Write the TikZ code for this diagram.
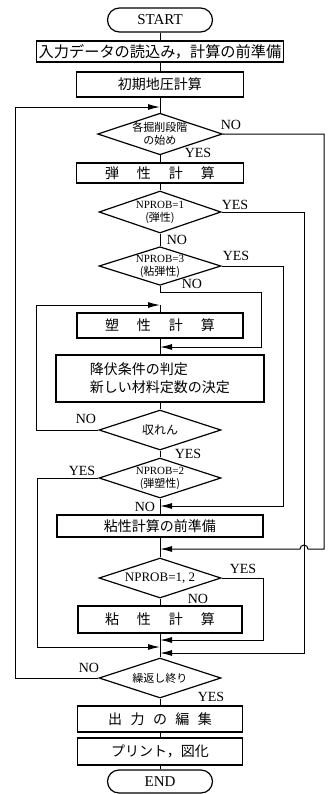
\documentclass[tikz,border=0pt]{standalone}
\usepackage{fontspec}
\setmainfont{Liberation Serif}
\newfontfamily\jp{Noto Sans CJK JP}
\usetikzlibrary{shapes.geometric,arrows.meta}
\newcommand{\gap}{\hspace{9pt}}
\begin{document}
\begin{tikzpicture}[x=0.5pt,y=-0.5pt,
  box/.style={draw,line width=0.6pt,inner sep=1pt,font=\jp\fontsize{7}{9}\selectfont},
  decide/.style={draw,diamond,aspect=3,inner sep=0pt,line width=0.6pt,minimum width=61pt,minimum height=20pt,align=center,font=\fontsize{5.5}{6.5}\selectfont},
  term/.style={draw,rounded corners=6pt,line width=0.6pt,minimum width=52.5pt,minimum height=12pt,inner sep=1pt,font=\fontsize{7.5}{9}\selectfont},
  lbl/.style={inner sep=0pt,font=\fontsize{7}{8}\selectfont},
  flow/.style={line width=0.5pt},
  into/.style={line width=0.5pt,-{Latex[length=6pt,width=3pt]}}]
\useasboundingbox (0,0) rectangle (336,794);
\node[term] (start) at (160,20) {START};
\node[box,minimum width=123pt,minimum height=10.5pt,font=\jp\fontsize{7.6}{9}\selectfont] (input) at (160,51.5) {入力データの読込み，計算の前準備};
\node[box,minimum width=83.5pt,minimum height=12.5pt] (init) at (160,84.5) {初期地圧計算};
\node[decide,font=\jp\fontsize{5.5}{6.5}\selectfont] (d1) at (160,134) {各掘削段階\\の始め};
\node[box,minimum width=83.5pt,minimum height=10pt] (elastic) at (160,173) {弾\gap 性\gap 計\gap 算};
\node[decide,minimum height=21pt] (d2) at (160,212) {NPROB=1\\\jp(弾性)};
\node[decide,minimum height=19pt] (d3) at (160,266) {NPROB=3\\\jp(粘弾性)};
\node[box,minimum width=83pt,minimum height=12.5pt] (plastic) at (160,325.5) {塑\gap 性\gap 計\gap 算};
\node[box,minimum width=104pt,minimum height=23.5pt,align=left] (yield) at (160,378.5) {降伏条件の判定\\新しい材料定数の決定};
\node[decide,font=\jp\fontsize{6}{7}\selectfont] (d4) at (160,430) {収れん};
\node[decide] (d5) at (160,478) {NPROB=2\\\jp(弾塑性)};
\node[box,minimum width=103pt,minimum height=11pt] (visprep) at (160,526) {粘性計算の前準備};
\node[decide,font=\fontsize{6.5}{7}\selectfont] (d6) at (160,578) {NPROB=1, 2};
\node[box,minimum width=82pt,minimum height=13.5pt] (visc) at (160,619.5) {粘\gap 性\gap 計\gap 算};
\node[decide,font=\jp\fontsize{5.5}{6.5}\selectfont] (d7) at (160,678) {繰返し終り};
\node[box,minimum width=82.5pt,minimum height=13pt] (output) at (160,719) {出\hspace{4.2pt}力\hspace{4.2pt}の\hspace{4.2pt}編\hspace{4.2pt}集};
\node[box,minimum width=82.5pt,minimum height=13.5pt] (print) at (160,751.5) {プリント，図化};
\node[term,minimum height=11.5pt,rounded corners=5.75pt] (end) at (160,781.5) {END};
\coordinate (j1) at (160,107);
\coordinate (j2) at (160,305);
\coordinate (j3) at (160,347);
\coordinate (j4) at (160,506);
\coordinate (j5) at (160,549);
\coordinate (j6) at (160,640);
\coordinate (j7) at (160,647);
\coordinate (j8) at (160,653);
\draw[flow] (start) -- (input) -- (init) -- (d1) -- (elastic) -- (d2) -- (d3);
\draw[flow] (j2) -- (plastic) -- (yield) -- (d4) -- (d5) -- (visprep) -- (d6) -- (visc) -- (d7) -- (output) -- (print) -- (end);
\draw[into] (d3.south) -- (160,292) -- (261,292) -- (261,347) -- (j3);
\draw[into] (d1.east) -- (324,134) -- (324,549) -- (308,549) arc[start angle=0,end angle=180,radius=2pt] -- (j5);
\draw[into] (d2.east) -- (304,212) -- (304,653) -- (j8);
\draw[into] (d3.east) -- (283,266) -- (283,506) -- (j4);
\draw[into] (d4.west) -- (36,430) -- (36,305) -- (j2);
\draw[into] (d5.west) -- (37,478) -- (37,647) -- (j7);
\draw[into] (d6.east) -- (263,578) -- (263,640) -- (j6);
\draw[into] (d7.west) -- (15,678) -- (15,107) -- (j1);
\node[lbl] (d1no) at (231,125) {NO};
\node[lbl] (d1yes) at (198,152.5) {YES};
\node[lbl] (d2yes) at (235,205) {YES};
\node[lbl] (d2no) at (177,240) {NO};
\node[lbl] (d3yes) at (236,256) {YES};
\node[lbl] (d3no) at (192,284) {NO};
\node[lbl] (d4no) at (86,419) {NO};
\node[lbl] (d4yes) at (188,454) {YES};
\node[lbl] (d5yes) at (82,471) {YES};
\node[lbl] (d5no) at (145,507) {NO};
\node[lbl] (d6yes) at (243,569) {YES};
\node[lbl] (d6no) at (198,599) {NO};
\node[lbl] (d7no) at (89,668) {NO};
\node[lbl] (d7yes) at (211,697) {YES};
\end{tikzpicture}
\end{document}
